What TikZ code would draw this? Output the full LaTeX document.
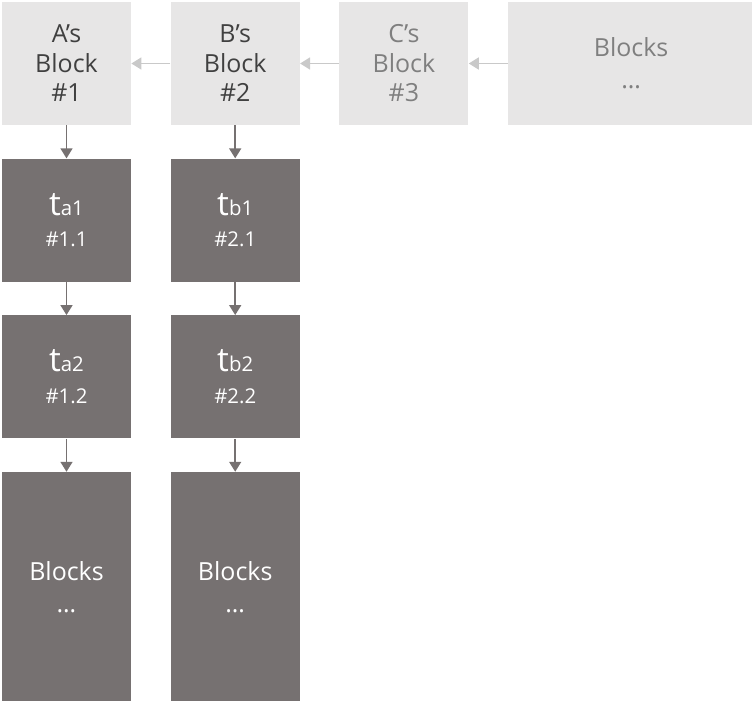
\documentclass[tikz,border=0pt]{standalone}
\usepackage{fontspec}
\setmainfont{Open Sans}
\usetikzlibrary{positioning,arrows.meta}

\definecolor{lightbox}{HTML}{E7E6E6}
\definecolor{darkbox}{HTML}{767171}
\definecolor{darktext}{HTML}{404040}
\definecolor{fadedtext}{HTML}{7F7F7F}
\definecolor{lightarrow}{HTML}{C9C9C9}

\begin{document}
\begin{tikzpicture}[
        chainblock/.style={fill=lightbox, minimum width=2.58cm, minimum height=2.46cm, text width=2.4cm, align=center, inner sep=0pt, text=darktext, font=\fontsize{14.2}{16.8}\selectfont},
        faded/.style={chainblock, text=fadedtext},
        txblock/.style={chainblock, fill=darkbox, text=white, font=\fontsize{11.6}{18}\selectfont},
        back/.style={-{Triangle[width=0.24cm,length=0.2cm]}, line width=0.9pt, lightarrow},
        down/.style={-{Triangle[width=0.24cm,length=0.2cm]}, line width=0.9pt, darkbox}
    ]
        \useasboundingbox (0,0) rectangle (15.04,-14);

        % Main chain
        \node[chainblock] (blockA) at (1.33,-1.27) {A's\\Block\\\#1};
        \node[chainblock, right=0.78cm of blockA] (blockB) {B's\\Block\\\#2};
        \node[faded, right=0.78cm of blockB] (blockC) {C's\\Block\\\#3};
        \node[faded, minimum width=4.92cm, text width=4.5cm, font=\fontsize{14.2}{18}\selectfont, right=0.78cm of blockC] (blockMore) {Blocks\\\dots};

        % Side chains
        \node[txblock, below=0.66cm of blockA] (ta1) {{\fontsize{19}{18}\selectfont t}a1\\\#1.1};
        \node[txblock, below=0.66cm of ta1] (ta2) {{\fontsize{19}{18}\selectfont t}a2\\\#1.2};
        \node[txblock, minimum height=4.6cm, font=\fontsize{14.2}{18}\selectfont, below=0.66cm of ta2] (moreA) {Blocks\\\dots};
        \node[txblock, below=0.66cm of blockB] (tb1) {{\fontsize{19}{18}\selectfont t}b1\\\#2.1};
        \node[txblock, below=0.66cm of tb1] (tb2) {{\fontsize{19}{18}\selectfont t}b2\\\#2.2};
        \node[txblock, minimum height=4.6cm, font=\fontsize{14.2}{18}\selectfont, below=0.66cm of tb2] (moreB) {Blocks\\\dots};

        % Links
        \draw[back] (blockB) -- (blockA);
        \draw[back] (blockC) -- (blockB);
        \draw[back] (blockMore) -- (blockC);
        \draw[down] (blockA) -- (ta1);
        \draw[down] (ta1) -- (ta2);
        \draw[down] (ta2) -- (moreA);
        \draw[down] (blockB) -- (tb1);
        \draw[down] (tb1) -- (tb2);
        \draw[down] (tb2) -- (moreB);
    \end{tikzpicture}
\end{document}
